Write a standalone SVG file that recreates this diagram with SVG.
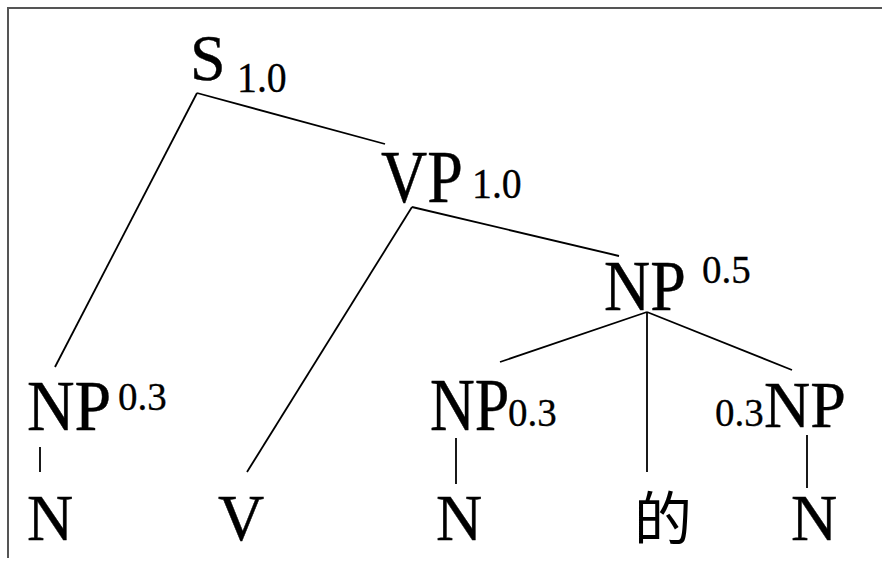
<svg xmlns="http://www.w3.org/2000/svg" width="882" height="562" viewBox="0 0 882 562">
<style>
.big{font-family:"Liberation Serif","Times New Roman",serif;font-size:64px;fill:#000;stroke:#000;stroke-width:0.4}
.sm{font-family:"Liberation Serif","Times New Roman",serif;font-size:39px;fill:#000;stroke:#000;stroke-width:0.3}
.cjk{font-family:"Noto Sans CJK SC","Noto Sans CJK JP",sans-serif;font-size:58px;font-weight:400;fill:#000}
.edge{stroke:#000;stroke-width:1.8;fill:none}
.frame{stroke:#555;stroke-width:2;fill:none}
</style>
<rect width="882" height="562" fill="#fff"/>
<path class="frame" d="M8,558 V8 H882"/>
<g id="connectors">
<line class="edge" x1="197" y1="93" x2="55" y2="367"/>
<line class="edge" x1="197" y1="93" x2="385" y2="144"/>
<line class="edge" x1="412" y1="207" x2="247" y2="472"/>
<line class="edge" x1="412" y1="207" x2="619" y2="256"/>
<line class="edge" x1="647" y1="312" x2="500" y2="362"/>
<line class="edge" x1="647" y1="312" x2="647" y2="472"/>
<line class="edge" x1="647" y1="312" x2="792" y2="370"/>
<line class="edge" x1="40" y1="447" x2="40" y2="472"/>
<line class="edge" x1="456" y1="438" x2="456" y2="484"/>
<line class="edge" x1="807" y1="435" x2="807" y2="488"/>
</g>
<g id="S"><text class="big" transform="translate(190,80) scale(1,1.03)">S</text><text class="sm" transform="translate(237,92) scale(1.02,1.1)">1.0</text></g>
<g id="VP"><text class="big" transform="translate(381,202) scale(1,1.17)">VP</text><text class="sm" transform="translate(472,198) scale(1.02,1.1)">1.0</text></g>
<g id="NP05"><text class="big" transform="translate(604,310) scale(1,1.12)">NP</text><text class="sm" transform="translate(702,283) scale(1,1.05)">0.5</text></g>
<g id="NP-left"><text class="big" transform="translate(27,430) scale(1.03,1.12)">NP</text><text class="sm" transform="translate(118,410) scale(1,1.05)">0.3</text></g>
<g id="NP-mid"><text class="big" transform="translate(430,430) scale(0.97,1.14)">NP</text><text class="sm" transform="translate(508,426) scale(1,1.05)">0.3</text></g>
<g id="NP-right"><text class="sm" transform="translate(715,426) scale(1,1.05)">0.3</text><text class="big" transform="translate(764,427) scale(1,1.03)">NP</text></g>
<g id="N1"><text class="big" transform="translate(27,540) scale(1,1.03)">N</text></g>
<g id="V"><text class="big" transform="translate(218,540) scale(1,1.03)">V</text></g>
<g id="N2"><text class="big" transform="translate(436,540) scale(1,1.03)">N</text></g>
<g id="de"><text class="cjk" x="634" y="540">的</text></g>
<g id="N3"><text class="big" transform="translate(791,540) scale(1,1.03)">N</text></g>
</svg>
